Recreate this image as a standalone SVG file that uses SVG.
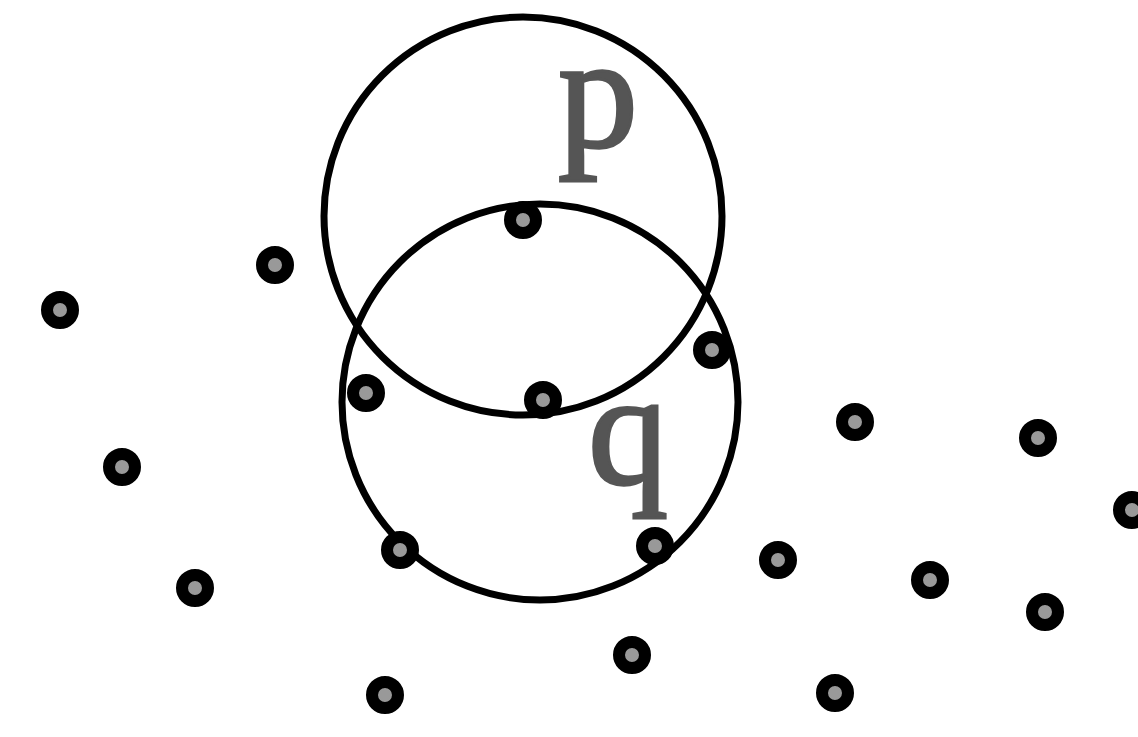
<svg xmlns="http://www.w3.org/2000/svg" width="1138" height="737" viewBox="0 0 1138 737">
<style>
.big{fill:none;stroke:#000;stroke-width:7}
.pt{fill:#999;stroke:#000;stroke-width:12}
.lbl{font-family:"Liberation Serif",serif;font-size:160px;fill:#555;stroke:#555;stroke-width:3}
</style>
<defs><circle id="dot" r="13" class="pt"/></defs>
<rect width="1138" height="737" fill="#fff"/>
<g id="circles">
<circle id="circle-p" class="big" cx="523" cy="216" r="199"/>
<circle id="circle-q" class="big" cx="540" cy="402" r="198"/>
</g>
<g id="labels">
<text id="label-p" class="lbl" x="558" y="147">p</text>
<text id="label-q" class="lbl" x="588" y="484">q</text>
</g>
<g id="points">
<use href="#dot" x="60" y="310"/>
<use href="#dot" x="275" y="265"/>
<use href="#dot" x="523" y="220"/>
<use href="#dot" x="366" y="393"/>
<use href="#dot" x="543" y="400"/>
<use href="#dot" x="712" y="350"/>
<use href="#dot" x="122" y="467"/>
<use href="#dot" x="195" y="588"/>
<use href="#dot" x="400" y="550"/>
<use href="#dot" x="655" y="546"/>
<use href="#dot" x="855" y="422"/>
<use href="#dot" x="1038" y="438"/>
<use href="#dot" x="1132" y="510"/>
<use href="#dot" x="778" y="560"/>
<use href="#dot" x="930" y="580"/>
<use href="#dot" x="1045" y="612"/>
<use href="#dot" x="632" y="655"/>
<use href="#dot" x="385" y="695"/>
<use href="#dot" x="835" y="693"/>
</g>
</svg>
